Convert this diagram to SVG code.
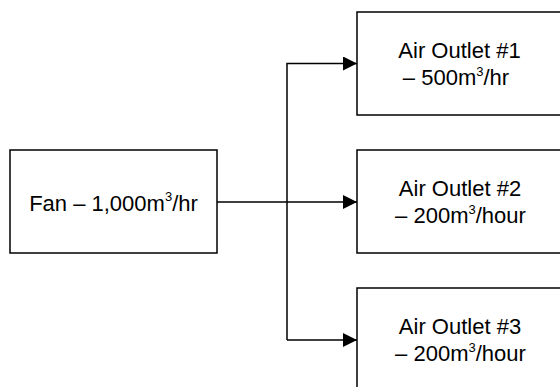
<svg xmlns="http://www.w3.org/2000/svg" width="560" height="387" viewBox="0 0 560 387">
  <style>
    .box { fill: #ffffff; stroke: #000000; stroke-width: 1.5; }
    .lbl { font-family: "Liberation Sans", Arial, sans-serif; font-size: 22px; fill: #000000; text-anchor: middle; }
    .sup { font-size: 13px; }
    .conn { fill: none; stroke: #000000; stroke-width: 1.5; }
  </style>
  <defs>
    <marker id="arrow" markerUnits="userSpaceOnUse" markerWidth="14" markerHeight="14" refX="14" refY="7" orient="auto">
      <path d="M0,0 L14,7 L0,14 Z" fill="#000000"/>
    </marker>
  </defs>
  <rect width="560" height="387" fill="#ffffff"/>

  <g id="connectors">
    <path class="conn" d="M217,202 L357,202" marker-end="url(#arrow)"/>
    <path class="conn" d="M287,340 L287,63.5 L357,63.5" marker-end="url(#arrow)"/>
    <path class="conn" d="M287,340 L357,340" marker-end="url(#arrow)"/>
  </g>

  <g id="fan">
    <rect class="box" x="10" y="150" width="207" height="103"/>
    <text class="lbl" x="113.5" y="210.5">Fan – 1,000m<tspan class="sup" dy="-10">3</tspan><tspan dy="10">/hr</tspan></text>
  </g>

  <g id="outlet1">
    <rect class="box" x="357" y="12" width="207" height="103"/>
    <text class="lbl" x="459.5" y="58">Air Outlet #1</text>
    <text class="lbl" x="456" y="85">– 500m<tspan class="sup" dy="-9">3</tspan><tspan dy="9">/hr</tspan></text>
  </g>

  <g id="outlet2">
    <rect class="box" x="357" y="150" width="207" height="103"/>
    <text class="lbl" x="460" y="196">Air Outlet #2</text>
    <text class="lbl" x="460.5" y="223">– 200m<tspan class="sup" dy="-9">3</tspan><tspan dy="9">/hour</tspan></text>
  </g>

  <g id="outlet3">
    <rect class="box" x="357" y="288" width="207" height="103"/>
    <text class="lbl" x="460" y="334">Air Outlet #3</text>
    <text class="lbl" x="460.5" y="361">– 200m<tspan class="sup" dy="-9">3</tspan><tspan dy="9">/hour</tspan></text>
  </g>
</svg>
